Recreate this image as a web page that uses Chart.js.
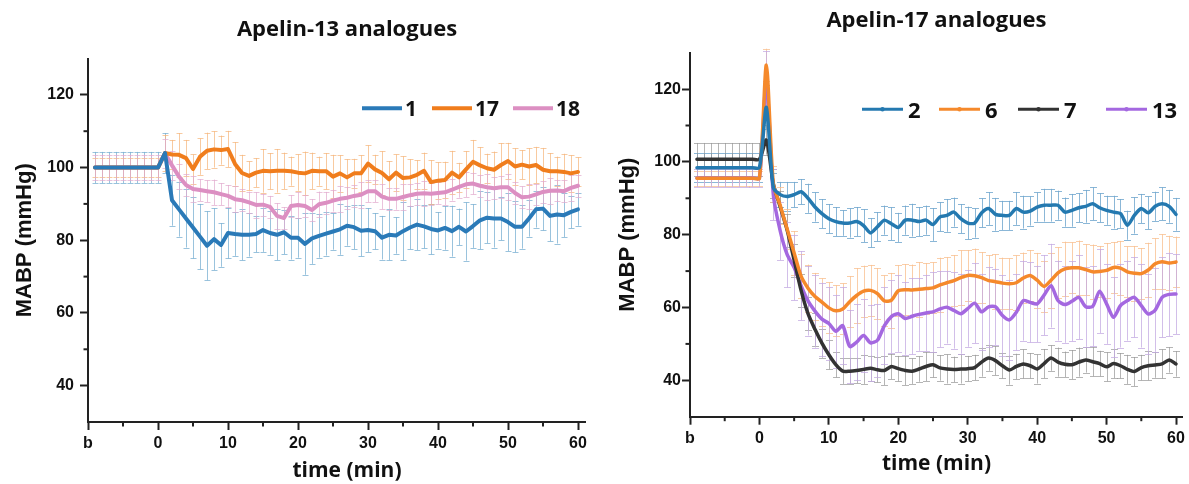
<!DOCTYPE html>
<html>
<head>
<meta charset="utf-8">
<script src="https://cdn.jsdelivr.net/npm/chart.js@4.4.1/dist/chart.umd.min.js"></script>
<style>
html,body{margin:0;padding:0;background:#fff;overflow:hidden;width:1189px;height:484px;}
canvas{position:absolute;top:0;}
#c13{left:0;}
#c17{left:600px;}
</style>
</head>
<body>
<canvas id="c13" width="694" height="484" style="width:694px;height:484px"></canvas>
<canvas id="c17" width="589" height="484" style="width:589px;height:484px"></canvas>
<script>
// ---------- DATA ----------
const timeMin = [-9,-8,-7,-6,-5,-4,-3,-2,-1,0,1,2,3,4,5,6,7,8,9,10,11,12,13,14,15,16,17,18,19,20,21,22,23,24,25,26,27,28,29,30,31,32,33,34,35,36,37,38,39,40,41,42,43,44,45,46,47,48,49,50,51,52,53,54,55,56,57,58,59,60];
const xTickValues = [-10,0,10,20,30,40,50,60];
const xTickLabels = ['b','0','10','20','30','40','50','60'];
const xMinorTicks = [-5,5,15,25,35,45,55];
const yTickValues = [40,60,80,100,120];
const yMinorTicks = [50,70,90,110];

// Apelin-13 analogues
const labels13 = ['1','17','18'];
const mabp1 = [100,100,100,100,100,100,100,100,100,100,
 104,91,88.5,86,83.5,81,78.5,80.3,78.7,82,
 81.7,81.5,81.5,81.7,82.8,82,81.5,82.2,80.7,80.7,
 79,80.5,81.2,81.8,82.4,83,84,83.6,82.6,82.8,
 82.5,80.7,81.5,81.3,82.5,83.5,84.3,83.8,83.1,82.7,
 83.4,82.5,83.7,82.4,83.9,85.5,86.2,86,86,85,
 83.7,83.7,86,88.5,88.7,86.7,87.1,86.9,87.8,88.5];
const err1 = [4.3,4.3,4.3,4.3,4.3,4.3,4.3,4.3,4.3,4.3,
 5.5,7,7.5,8,8.5,9,9.5,8.5,6,7,
 6,7,6,5,6,6,7,6,6,5.5,
 8.5,7,6,6,5,7,5.5,6,7,6,
 5,6,7,5,8,6,7,6,7,5,
 6,7,5,8,6,8,7,8,6,8,
 7,6,5,5,6,7,8,6,4.5,4.5];
const mabp17 = [100,100,100,100,100,100,100,100,100,100,
 104,103.6,103.5,102.6,99.6,103,104.6,105,104.8,105.1,
 101,98.5,97.7,98.6,99.1,99,99.1,99.1,99,98.6,
 98.4,99.1,99,99,97.5,98.4,97.3,98.4,98.4,101.1,
 99.5,98.5,96.8,98.6,97.1,97.3,98,99.1,96,96.4,
 96.6,98.6,97.3,99.5,101.6,100.6,99.8,99.4,100.7,101.8,
 100.3,100.8,100.3,100.7,99.4,99,99,98.8,98.4,98.8];
const err17 = [2.5,2.5,2.5,2.5,2.5,2.5,2.5,2.5,2.5,2.5,
 5,4,6,5,4,5,5,5,4,5,
 6,5,4,4,6,5,6,5,4,5,
 6,5,4,5,6,5,5,4,5,5,
 4,6,5,5,6,5,4,5,6,5,
 5,6,4,5,6,5,4,5,6,5,
 5,4,5,5,6,5,4,5,5,4];
const mabp18 = [100,100,100,100,100,100,100,100,100,100,
 103.9,100.6,97.5,95.2,94.1,93.8,93.5,93.2,92.7,92.2,
 91.3,91,90.4,89.7,89.8,89.2,86.7,86.1,89.4,89.7,
 89.4,88.3,89.9,90.3,90.9,91.4,91.7,92.2,92.5,93.5,
 93.5,92,91.4,91.4,91.9,92.4,92.8,92.9,92.8,93,
 93.2,93.9,94.7,95.4,95.6,95,94.6,94.3,94.6,94.6,
 93,91.8,92,92.6,93.3,93.6,93.7,93.5,94.4,95];
const err18 = [3.5,3.5,3.5,3.5,3.5,3.5,3.5,3.5,3.5,3.5,
 4,4,3.5,3,3.5,3,3,3.5,3,3,
 3.5,3,3,3.5,3,3,3.5,3,3,3.5,
 3,3,3.5,3,3,3.5,3,3,3.5,3,
 3,3.5,3,3,3.5,3,3,3.5,3,3,
 3.5,3,3,3.5,3,3,3.5,3,3,3.5,
 3,3,3.5,3,3,3.5,3,3,3.5,3];

// Apelin-17 analogues
const labels17 = ['2','6','7','13'];
const mabp2 = [98.4,98.4,98.4,98.4,98.4,98.4,98.4,98.4,98.4,98.4,
 115,93,91,90.5,91,91.8,90,87.6,85.8,84.4,
 83.6,83.2,83.2,83.6,82.5,80.5,82.2,84,83,82,
 84,84,83.6,84,82.8,84.9,85.3,86.2,84.4,83.2,
 83.2,86,87.2,85.6,85.3,85.3,87.2,86.2,86.5,87.6,
 88.1,88.1,88.1,86.2,86.7,87.4,87.8,88.5,87.4,86.7,
 86.2,85.8,82.6,85.3,87.2,86,87.8,88.5,87.8,85.6];
const err2 = [4,4,4,4,4,4,4,4,4,4,
 6,4,3.5,4,3.5,3.5,4,4,4,4,
 4,3.5,4,4,4.5,4,4,4,4.5,4,
 4,4.5,4,4,4.5,4,4.5,4,4,4.5,
 4,4,4.5,4.5,4,4,4.5,4.5,4,4,
 4.5,4.5,4,4,4.5,4,4.5,4.5,4,4,
 4.5,4,4,5,4,4.5,4,4.5,4.5,4.5];
const mabp6 = [95.5,95.5,95.5,95.5,95.5,95.5,95.5,95.5,95.5,95.5,
 126.6,94,88,81.5,75,68.6,65.3,63,61.5,59.9,
 59.1,59.6,61.6,63.3,64.5,64.7,63.8,61.8,62,64.6,
 64.9,64.8,65,65.2,65.4,66.2,66.8,67.4,68.2,68.8,
 68.7,68.2,67.4,67.1,66.7,66.5,66.8,68.1,68.8,67.5,
 65.8,67.5,69.5,70.6,70.9,70.9,70.4,69.8,69.9,70.2,
 71,70.8,69.8,69.4,69.3,70.3,72,72.6,72.2,72.5];
const err6 = [2,2,2,2,2,2,2,2,2,2,
 4.5,5,5,5.5,6,6,6.5,6.5,6.5,7,
 7,7,7,7.5,7,7,7,7,7.5,7,
 7,7,7.5,7,7,7.5,7,7,7.5,7,
 7.5,7,7,7.5,7,7,7.5,7,7,7.5,
 7,7.5,7,7.5,7,7.5,7,7.5,7,7.5,
 7,7.5,7,7.5,7,7.5,7,7.5,7.5,7];
const mabp7 = [100.7,100.7,100.7,100.7,100.7,100.7,100.7,100.7,100.7,100.7,
 106,94,87.6,81.2,73,64.7,58.3,54,50.2,47,
 44.3,42.5,42.5,42.7,43,43.3,42.9,42.7,43.8,43.2,
 42.7,42.5,43.1,43.8,44.3,43.4,43.1,43,43.1,43.2,
 43.5,45,46.1,45.4,44,42.8,43.8,44.5,44,43.1,
 44.6,46.1,45,44.4,44.3,45,45.6,45.1,44.6,43.7,
 44.6,44,43,42.4,43.5,44,44.2,44.5,45.6,44.5];
const err7 = [4.5,4.5,4.5,4.5,4.5,4.5,4.5,4.5,4.5,4.5,
 4,4,4.5,4.5,4.5,4.5,4.5,4.5,4,4,
 3.5,3.5,3.5,3.5,4,3.5,3.5,4,3.5,3.5,
 4,3.5,3.5,4,3.5,3.5,4,3.5,4,3.5,
 3.5,4,3.5,4,3.5,4,3.5,4,3.5,4,
 4,3.5,4,3.5,4,4,3.5,4,3.5,4,
 4,3.5,4,4,3.5,4,3.5,4,3.5,3.5];
const mabp13 = [95.6,95.6,95.6,95.6,95.6,95.6,95.6,95.6,95.6,95.6,
 122.5,91,81,74.5,71,66,61.8,59,56.8,55.6,
 53.5,55,49.3,50.5,52.3,50.3,51,55,57.5,58.3,
 57,57.6,58.1,58.5,58.8,59.6,60.1,59.2,58.3,59.7,
 61.2,58.8,60.2,60.2,57.8,56.6,58.7,61.9,61.4,61,
 63.4,66,61.9,60.8,61.7,62.8,60.2,60.3,64.5,61,
 57.3,60.5,61.9,62.8,60.5,58.2,59.3,62.8,63.6,63.7];
const err13 = [2.5,2.5,2.5,2.5,2.5,2.5,2.5,2.5,2.5,2.5,
 8,7,8,9,9,9.5,9.5,10,10,10,
 10,10.5,10,10.5,10,10.5,10,10.5,10,10.5,
 10,10.5,10,10.5,11,10.5,10,10.5,11,10.5,
 11,10.5,11,10.5,11,11,10.5,11,11,10.5,
 11,11.5,11,10.5,11,11.5,11,11,11.5,11,
 11,11.5,11,11,11.5,11,11.5,11,11.5,11];

// ---------- PLUGINS ----------
const errorBars = {
  id: 'errorBars',
  beforeDatasetsDraw(chart, args, opts) {
    const {ctx, scales: {x, y}} = chart;
    ctx.save();
    ctx.lineWidth = 1;
    chart.data.datasets.forEach(ds => {
      if (!ds.errors) return;
      ctx.strokeStyle = ds.errorColor;
      ds.data.forEach((pt, i) => {
        const e = ds.errors[i];
        const px = Math.round(x.getPixelForValue(pt.x)) + 0.5;
        const yt = y.getPixelForValue(pt.y + e);
        const yb = y.getPixelForValue(pt.y - e);
        ctx.beginPath();
        ctx.moveTo(px, yt); ctx.lineTo(px, yb);
        ctx.moveTo(px - opts.cap, Math.round(yt) + 0.5); ctx.lineTo(px + opts.cap, Math.round(yt) + 0.5);
        ctx.moveTo(px - opts.cap, Math.round(yb) + 0.5); ctx.lineTo(px + opts.cap, Math.round(yb) + 0.5);
        ctx.stroke();
      });
    });
    ctx.restore();
  }
};

const minorTicks = {
  id: 'minorTicks',
  afterDraw(chart, args, opts) {
    const {ctx, chartArea, scales: {x, y}} = chart;
    ctx.save();
    ctx.strokeStyle = opts.color;
    ctx.lineWidth = 2;
    opts.xValues.forEach(v => {
      const px = x.getPixelForValue(v);
      ctx.beginPath(); ctx.moveTo(px, chartArea.bottom); ctx.lineTo(px, chartArea.bottom + opts.length); ctx.stroke();
    });
    opts.yValues.forEach(v => {
      const py = y.getPixelForValue(v);
      ctx.beginPath(); ctx.moveTo(chartArea.left, py); ctx.lineTo(chartArea.left - opts.length, py); ctx.stroke();
    });
    ctx.restore();
  }
};

const lineLegend = {
  id: 'lineLegend',
  afterDraw(chart, args, opts) {
    const ctx = chart.ctx;
    ctx.save();
    ctx.font = opts.font;
    ctx.textBaseline = 'alphabetic';
    ctx.textAlign = 'left';
    chart.data.datasets.forEach((ds, i) => {
      const x0 = opts.starts[i];
      ctx.strokeStyle = ds.borderColor;
      ctx.lineWidth = opts.lineWidth;
      ctx.beginPath(); ctx.moveTo(x0, opts.lineY); ctx.lineTo(x0 + opts.length, opts.lineY); ctx.stroke();
      if (opts.marker) {
        ctx.fillStyle = ds.borderColor;
        ctx.beginPath(); ctx.arc(x0 + opts.length / 2, opts.lineY, 2.2, 0, Math.PI * 2); ctx.fill();
      }
      ctx.fillStyle = '#111';
      ctx.fillText(ds.label, x0 + opts.length + opts.gap, opts.textY);
    });
    ctx.restore();
  }
};

// ---------- HELPERS ----------
function makeSeries(label, values, errors, color, errColor, width, tension) {
  return {
    label: label,
    data: timeMin.map((t, i) => ({x: t, y: values[i]})),
    errors: errors,
    errorColor: errColor,
    borderColor: color,
    backgroundColor: color,
    borderWidth: width,
    pointRadius: 0,
    tension: tension,
    borderJoinStyle: 'round',
    borderCapStyle: 'round',
    fill: false
  };
}

const ARIAL = "'Liberation Sans', Arial, sans-serif";
const OPEN = "'Open Sans', sans-serif";
const AXIS = '#222';

function xScale(extra) {
  return Object.assign({
    type: 'linear', min: -10, max: 61,
    afterBuildTicks: s => { s.ticks = xTickValues.map(v => ({value: v})); },
    ticks: {
      callback: (v, i) => xTickLabels[i],
      font: {family: ARIAL, size: 16, weight: 'bold'}, color: '#111',
      padding: 4, maxRotation: 0, autoSkip: false
    },
    grid: {drawOnChartArea: false, drawTicks: true, tickLength: 8, tickWidth: 2, tickColor: AXIS},
    border: {display: true, color: AXIS, width: 2}
  }, extra);
}
function yScale(extra, tickPad) {
  return Object.assign({
    type: 'linear', min: 30, max: 130,
    afterBuildTicks: s => { s.ticks = yTickValues.map(v => ({value: v})); },
    ticks: {font: {family: ARIAL, size: 16, weight: 'bold'}, color: '#111', padding: tickPad},
    grid: {drawOnChartArea: false, drawTicks: true, tickLength: 8, tickWidth: 2, tickColor: AXIS},
    border: {display: true, color: AXIS, width: 2}
  }, extra);
}

// ---------- CHART: Apelin-13 ----------
new Chart(document.getElementById('c13'), {
  type: 'line',
  data: {datasets: [
    makeSeries(labels13[0], mabp1, err1, '#2a7ab8', 'rgba(120,175,210,0.75)', 4, 0),
    makeSeries(labels13[1], mabp17, err17, '#f07d1c', 'rgba(245,180,120,0.7)', 4, 0),
    makeSeries(labels13[2], mabp18, err18, '#dc8fc2', 'rgba(225,170,205,0.7)', 4, 0)
  ]},
  plugins: [errorBars, minorTicks, lineLegend],
  options: {
    responsive: false, animation: false,
    layout: {padding: 0},
    scales: {
      x: xScale({afterFit: s => { s.height = 36.8; }}),
      y: yScale({
        afterFit: s => { s.width = 88; },
        title: {display: true, text: 'MABP (mmHg)', font: {family: ARIAL, size: 22, weight: 'bold'}, color: '#111', padding: {top: 12, bottom: 0}}
      }, 6),
      pad: {
        type: 'linear', position: 'right', display: true,
        grid: {display: false, drawTicks: false}, border: {display: false},
        ticks: {display: false}, afterFit: s => { s.width = 109; }
      }
    },
    plugins: {
      legend: {display: false},
      tooltip: {enabled: false},
      title: {display: true, text: 'Apelin-13 analogues', fullSize: true,
        font: {family: OPEN, size: 22, weight: 'bold'}, color: '#111', padding: {top: 16.5, bottom: 15.6}},
      subtitle: {display: true, text: 'time (min)', position: 'bottom', fullSize: true,
        font: {family: OPEN, size: 21, weight: 'bold'}, color: '#111', padding: {top: 0, bottom: 0}},
      errorBars: {cap: 3},
      minorTicks: {xValues: xMinorTicks, yValues: yMinorTicks, length: 4.5, color: AXIS},
      lineLegend: {starts: [362, 432, 513], lineY: 108.3, textY: 115.5, length: 40, gap: 3, lineWidth: 4,
        font: "bold 21px 'Open Sans', sans-serif", marker: false}
    }
  }
});

// ---------- CHART: Apelin-17 ----------
new Chart(document.getElementById('c17'), {
  type: 'line',
  data: {datasets: [
    makeSeries(labels17[0], mabp2, err2, '#2479b0', 'rgba(110,165,205,0.8)', 3.5, 0.25),
    makeSeries(labels17[1], mabp6, err6, '#f5892b', 'rgba(248,190,140,0.75)', 3.5, 0.25),
    makeSeries(labels17[2], mabp7, err7, '#333333', 'rgba(150,150,150,0.7)', 3.5, 0.25),
    makeSeries(labels17[3], mabp13, err13, '#a468e0', 'rgba(195,170,225,0.75)', 3.5, 0.25)
  ]},
  plugins: [errorBars, minorTicks, lineLegend],
  options: {
    responsive: false, animation: false,
    layout: {padding: {left: 0, right: 3, top: 0, bottom: 0}},
    scales: {
      x: xScale({
        afterFit: s => { s.height = 67.3; },
        title: {display: true, text: 'time (min)', font: {family: OPEN, size: 21, weight: 'bold'}, color: '#111', padding: {top: 0, bottom: 7.5}}
      }),
      y: yScale({
        afterFit: s => { s.width = 90; },
        title: {display: true, text: 'MABP (mmHg)', font: {family: ARIAL, size: 22, weight: 'bold'}, color: '#111', padding: {top: 15, bottom: 0}}
      }, 1)
    },
    plugins: {
      legend: {display: false},
      tooltip: {enabled: false},
      title: {display: true, text: 'Apelin-17 analogues', fullSize: false,
        font: {family: OPEN, size: 22, weight: 'bold'}, color: '#111', padding: {top: 7.5, bottom: 18.8}},
      errorBars: {cap: 3.5},
      minorTicks: {xValues: xMinorTicks, yValues: yMinorTicks, length: 4.5, color: AXIS},
      lineLegend: {starts: [262, 339, 418, 506], lineY: 109.3, textY: 118.3, length: 41, gap: 5, lineWidth: 3,
        font: "bold 22px 'Open Sans', sans-serif", marker: true}
    }
  }
});
</script>
</body>
</html>
